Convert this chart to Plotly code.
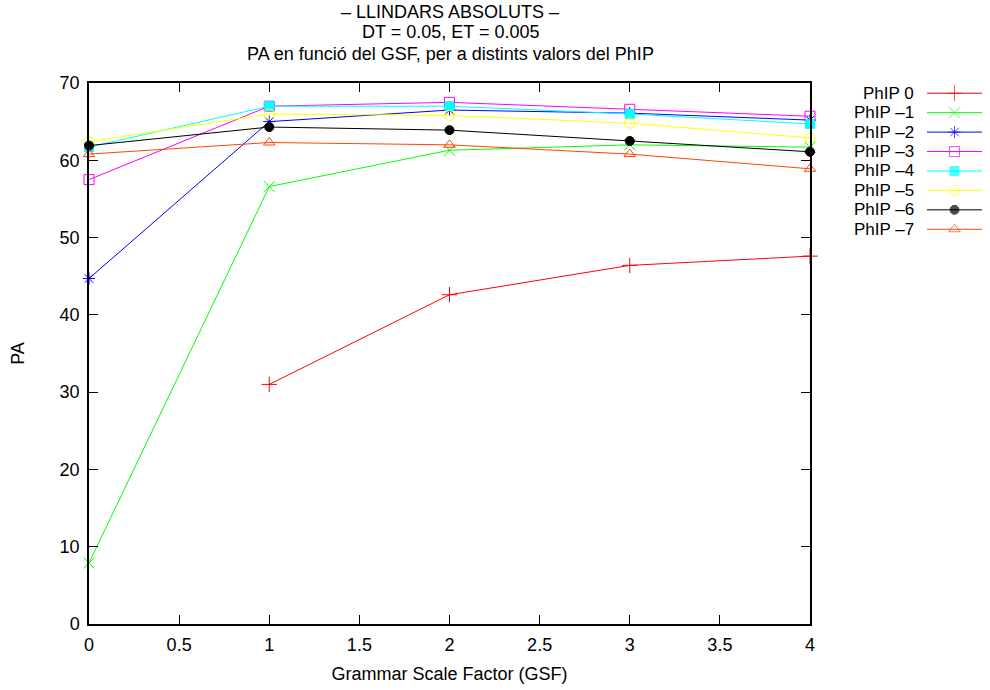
import plotly.graph_objects as go

gsf = [0, 1, 2, 3, 4]
names = ["PhIP 0", "PhIP –1", "PhIP –2", "PhIP –3", "PhIP –4", "PhIP –5", "PhIP –6", "PhIP –7"]
phip0 = [None, 31.0, 42.6, 46.4, 47.6]
phip1 = [7.9, 56.6, 61.3, 62.0, 61.7]
phip2 = [44.7, 65.0, 66.5, 66.1, 65.2]
phip3 = [57.5, 67.0, 67.5, 66.6, 65.7]
phip4 = [61.7, 67.0, 67.0, 66.0, 64.7]
phip5 = [62.4, 66.0, 65.8, 64.8, 62.9]
phip6 = [61.9, 64.3, 63.9, 62.5, 61.1]
phip7 = [60.8, 62.3, 62.0, 60.8, 58.9]
series = [phip0, phip1, phip2, phip3, phip4, phip5, phip6, phip7]
colors = ["#ff0000", "#00ff00", "#0000ff", "#ff00ff", "#00ffff", "#ffff00", "#000000", "#ff4500"]
symbols = ["cross-thin-open", "x-thin-open", "asterisk-open", "square-open", "square",
           "circle-open", "circle", "triangle-up-open"]
sizes = [11, 11, 10, 10, 9, 10, 9, 10]

W, H = 990, 690
L, R, T, B = 89, 810, 83, 624
FONT = "Liberation Sans, Arial, sans-serif"

fig = go.Figure()
for i, (nm, ys) in enumerate(zip(names, series)):
    fig.add_trace(go.Scatter(
        x=gsf, y=ys, mode="lines+markers", name=nm, showlegend=False, cliponaxis=False,
        line=dict(color=colors[i], width=1),
        marker=dict(symbol=symbols[i], size=sizes[i], color=colors[i],
                    line=dict(color=colors[i], width=1)),
        xaxis="x", yaxis="y"))
    # legend sample on the legend axes
    fig.add_trace(go.Scatter(
        x=[0, 0.5, 1], y=[i, i, i], mode="lines+markers", showlegend=False, cliponaxis=False,
        line=dict(color=colors[i], width=1),
        marker=dict(symbol=symbols[i], size=[0, sizes[i], 0], color=colors[i],
                    line=dict(color=colors[i], width=1)),
        xaxis="x2", yaxis="y2", hoverinfo="skip"))
    fig.add_annotation(x=0, y=i, xref="x2", yref="y2", text=nm, showarrow=False,
                       xanchor="right", yanchor="middle", xshift=-11,
                       font=dict(family=FONT, size=17, color="black"))

fig.update_layout(
    width=W, height=H,
    margin=dict(l=0, r=0, t=0, b=0),
    paper_bgcolor="white", plot_bgcolor="white",
    font=dict(family=FONT, size=18, color="black"),
    xaxis=dict(domain=[L / W, R / W], range=[0, 4], tickvals=[0, 0.5, 1, 1.5, 2, 2.5, 3, 3.5, 4],
               ticktext=["0", "0.5", "1", "1.5", "2", "2.5", "3", "3.5", "4"],
               ticks="inside", ticklen=9, tickcolor="black", showgrid=False, zeroline=False,
               showline=True, linecolor="black", linewidth=1.5, mirror="ticks",
               tickfont=dict(family=FONT, size=18), ticklabelstandoff=4, automargin=False,
               title=dict(text="Grammar Scale Factor (GSF)", standoff=13,
                          font=dict(family=FONT, size=18)),
               anchor="y"),
    yaxis=dict(domain=[(H - B) / H, (H - T) / H], range=[0, 70], tickvals=list(range(0, 71, 10)),
               ticks="inside", ticklen=9, tickcolor="black", showgrid=False, zeroline=False,
               showline=True, linecolor="black", linewidth=1.5, mirror="ticks",
               tickfont=dict(family=FONT, size=18), ticklabelstandoff=4, automargin=False,
               title=dict(text="PA", standoff=30, font=dict(family=FONT, size=18)),
               anchor="x"),
    xaxis2=dict(domain=[927 / W, 982 / W], range=[0, 1], visible=False, anchor="y2"),
    yaxis2=dict(domain=[(H - 239) / H, (H - 83.5) / H], range=[7.5, -0.5], visible=False, anchor="x2"),
)

titles = ["– LLINDARS ABSOLUTS –", "DT = 0.05, ET = 0.005", "PA en funció del GSF, per a distints valors del PhIP"]
for j, t in enumerate(titles):
    fig.add_annotation(x=450 / W, y=1 - (11.5 + 21 * j) / H, xref="paper", yref="paper",
                       text=t, showarrow=False, xanchor="center", yanchor="middle",
                       font=dict(family=FONT, size=18, color="black"))

fig.write_html("out.html")
